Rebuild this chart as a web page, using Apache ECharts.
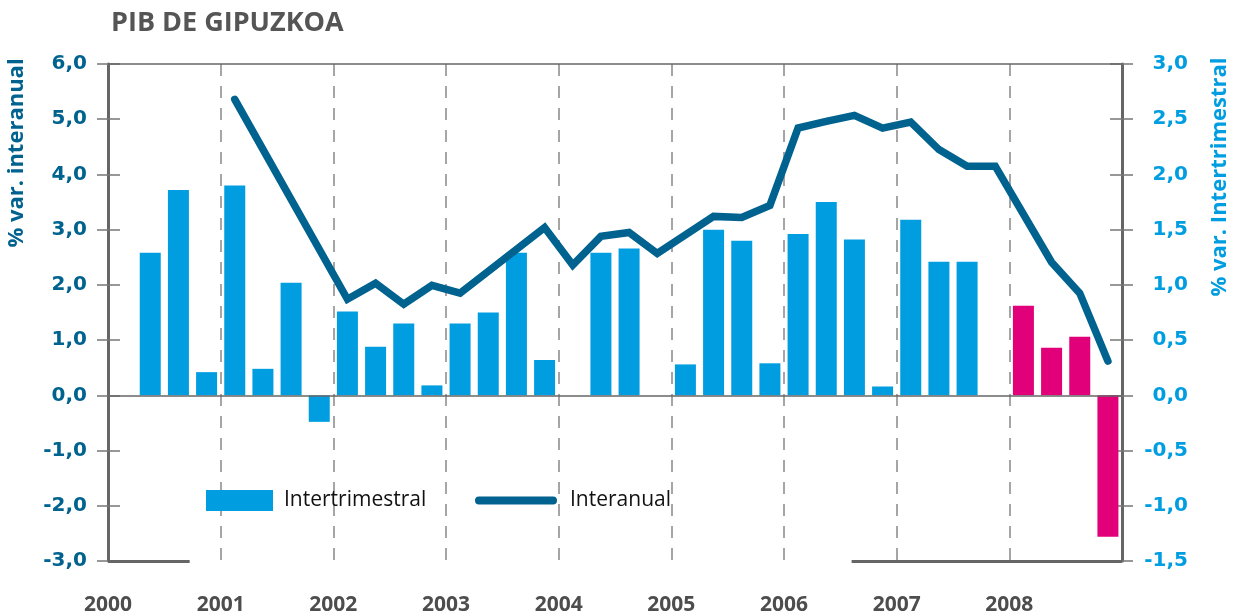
<!DOCTYPE html>
<html><head><meta charset="utf-8">
<script src="https://cdn.jsdelivr.net/npm/echarts@6/dist/echarts.min.js"></script>
<style>html,body{margin:0;padding:0;background:#fff}#c{width:1233px;height:616px}</style>
</head><body><div id="c"></div>
<script>
// ---- data (one value per quarter, 2000 Q1 .. 2008 Q4) ----
const yearLabels = ['2000','2001','2002','2003','2004','2005','2006','2007','2008'];
const quartersPerYear = 4;
// % var. intertrimestral (right axis)
const intertrimestral = [
  null, 1.29, 1.86, 0.21,
  1.90, 0.24, 1.02, -0.24,
  0.76, 0.44, 0.65, 0.09,
  0.65, 0.75, 1.29, 0.32,
  null, 1.29, 1.33, null,
  0.28, 1.50, 1.40, 0.29,
  1.46, 1.75, 1.41, 0.08,
  1.59, 1.21, 1.21, null,
  0.81, 0.43, 0.53, -1.28
];
// % var. interanual (left axis)
const interanual = [
  null, null, null, null,
  5.36, null, null, null,
  1.74, 2.03, 1.65, 1.99,
  1.85, null, null, 3.04,
  2.36, 2.88, 2.95, 2.57,
  null, 3.24, 3.22, 3.44,
  4.84, 4.96, 5.07, 4.84,
  4.95, 4.45, 4.15, 4.15,
  null, 2.41, 1.85, 0.62
];
const highlightYear = '2008';
// partial base line segments (in quarter units) drawn at the axis minimum
const baseSegments = [[0, 2.9], [26.4, 36]];
const leftRange = [-3, 6, 1];
const rightRange = [-1.5, 3, 0.5];

// ---- chart ----
const nQ = yearLabels.length * quartersPerYear;
const fmt = v => v.toFixed(1).replace('.', ',');
const barData = intertrimestral.map((v, i) => v == null ? null : [i + 0.5, v]).filter(Boolean);
const lineData = interanual.map((v, i) => v == null ? null : [i + 0.5, v]).filter(Boolean);
const hlStart = yearLabels.indexOf(highlightYear) * quartersPerYear;

const C_LINE = '#00628f', C_BAR = '#009ee0', C_PINK = '#e2007a', C_AX = '#666';
const chart = echarts.init(document.getElementById('c'));
chart.setOption({
  animation: false,
  backgroundColor: '#fff',
  title: {text: 'PIB DE GIPUZKOA', left: 106, top: 5,
    textStyle: {fontFamily: 'Open Sans', fontWeight: 'bold', fontSize: 27, color: '#555'}},
  grid: {left: 108, right: 111, top: 64, bottom: 54},
  legend: [
    {data: [{name: 'Intertrimestral', icon: 'rect', itemStyle: {color: C_BAR}}], left: 206, top: 490, padding: 0,
     itemWidth: 67, itemHeight: 21,
     textStyle: {fontFamily: 'Open Sans', fontSize: 21, color: '#111', padding: [0,0,0,6]}},
    {data: [{name: 'Interanual', icon: 'path://M4,0 H78 A4,4 0 0 1 78,8 H4 A4,4 0 0 1 4,0 Z', itemStyle: {color: C_LINE}}],
     left: 475, top: 490, padding: 0, itemWidth: 82, itemHeight: 8,
     textStyle: {fontFamily: 'Open Sans', fontSize: 21, color: '#111', padding: [0,0,0,8]}}
  ],
  xAxis: {
    type: 'value', min: 0, max: nQ, interval: quartersPerYear,
    axisLine: {show: false}, axisTick: {show: false},
    axisLabel: {formatter: v => yearLabels[v / quartersPerYear] && v < nQ ? yearLabels[v / quartersPerYear] : '',
      margin: 34, fontFamily: 'Open Sans', fontWeight: 'bold', fontSize: 21, color: '#4d4d4d', showMaxLabel: true},
    splitLine: {show: true, showMinLine: false, showMaxLine: false,
      lineStyle: {color: '#888', width: 1.5, type: [12, 10]}}
  },
  yAxis: [
    {type: 'value', position: 'left', min: leftRange[0], max: leftRange[1], interval: leftRange[2],
     axisLine: {show: true, lineStyle: {color: C_AX, width: 3}},
     axisTick: {show: true, length: 11, lineStyle: {color: '#777', width: 1.5}},
     axisLabel: {formatter: fmt, margin: 21, fontFamily: 'DejaVu Sans', fontWeight: 'bold', fontSize: 20, color: C_LINE},
     splitLine: {show: false}},
    {type: 'value', position: 'right', min: rightRange[0], max: rightRange[1], interval: rightRange[2],
     axisLine: {show: true, lineStyle: {color: C_AX, width: 3}},
     axisTick: {show: true, length: 11, lineStyle: {color: '#777', width: 1.5}},
     axisLabel: {formatter: fmt, margin: 66, align: 'right', fontFamily: 'DejaVu Sans', fontWeight: 'bold', fontSize: 20, color: C_BAR},
     splitLine: {show: false}},
    {type: 'value', position: 'left', min: leftRange[0], max: leftRange[1], interval: leftRange[2],
     axisLine: {show: false}, axisLabel: {show: false}, splitLine: {show: false},
     axisTick: {show: true, inside: true, length: 12, lineStyle: {color: '#777', width: 1.5}}},
    {type: 'value', position: 'right', min: rightRange[0], max: rightRange[1], interval: rightRange[2],
     axisLine: {show: false}, axisLabel: {show: false}, splitLine: {show: false},
     axisTick: {show: true, inside: true, length: 12, lineStyle: {color: '#777', width: 1.5}}}
  ],
  series: [
    {name: 'Intertrimestral', type: 'bar', yAxisIndex: 1, barWidth: 21, data: barData,
     itemStyle: {color: p => p.data[0] >= hlStart ? C_PINK : C_BAR}, z: 2},
    {name: 'Interanual', type: 'line', yAxisIndex: 0, data: lineData, symbol: 'none', z: 3,
     itemStyle: {color: C_LINE},
     lineStyle: {color: C_LINE, width: 7.5, cap: 'round', join: 'miter'},
     markLine: {silent: true, symbol: 'none', label: {show: false},
       data: [
         {yAxis: 0, lineStyle: {color: C_AX, width: 1.5, type: 'solid'}},
         {yAxis: leftRange[1], lineStyle: {color: C_AX, width: 1.5, type: 'solid'}},
         ...baseSegments.map(s => [{coord: [s[0], leftRange[0]], lineStyle: {color: C_AX, width: 3, type: 'solid'}},
                                   {coord: [s[1], leftRange[0]]}])
       ]}}
  ],
  graphic: [
    {type: 'text', x: 17, y: 153, rotation: Math.PI / 2,
     style: {text: '% var. interanual', fill: C_LINE, font: 'bold 22px "Open Sans"', textAlign: 'center', textVerticalAlign: 'middle'}},
    {type: 'text', x: 1220, y: 177, rotation: Math.PI / 2,
     style: {text: '% var. Intertrimestral', fill: C_BAR, font: 'bold 22px "Open Sans"', textAlign: 'center', textVerticalAlign: 'middle'}}
  ]
});
</script></body></html>
